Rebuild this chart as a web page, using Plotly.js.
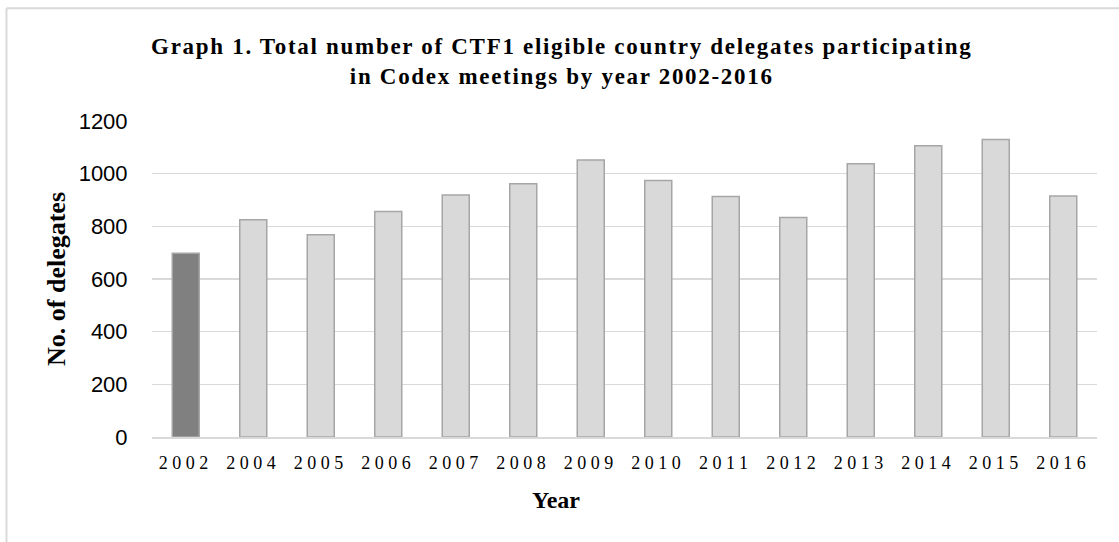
<!DOCTYPE html>
<html>
<head>
<meta charset="utf-8">
<script src="https://cdn.plot.ly/plotly-3.0.1.min.js"></script>
<style>
html,body{margin:0;padding:0;background:#fff;}
#chart{width:1119px;height:542px;}
.xtick text{letter-spacing:4.5px;}
.gtitle{letter-spacing:1.7px;}
</style>
</head>
<body>
<div id="chart"></div>
<script>
const years = ['2002','2004','2005','2006','2007','2008','2009','2010','2011','2012','2013','2014','2015','2016'];
const delegates = [698, 825, 768, 856, 919, 962, 1052, 974, 913, 834, 1038, 1106, 1130, 915];
const barColors = ['#808080','#d9d9d9','#d9d9d9','#d9d9d9','#d9d9d9','#d9d9d9','#d9d9d9','#d9d9d9','#d9d9d9','#d9d9d9','#d9d9d9','#d9d9d9','#d9d9d9','#d9d9d9'];
const yTicks = [0, 200, 400, 600, 800, 1000, 1200];

const serif = '"Liberation Serif", "DejaVu Serif", serif';
const sans = '"Liberation Sans", Arial, sans-serif';

const trace = {
  type: 'bar',
  x: years,
  y: delegates,
  marker: {color: barColors, line: {color: '#a6a6a6', width: 1.5}},
  hoverinfo: 'x+y'
};

const layout = {
  width: 1119,
  height: 542,
  margin: {l: 152, r: 22, t: 121, b: 105},
  paper_bgcolor: '#ffffff',
  plot_bgcolor: '#ffffff',
  bargap: 0.6,
  showlegend: false,
  title: {
    text: '<b>Graph 1. Total number of CTF1 eligible country delegates participating<br>in Codex meetings by year 2002-2016</b>',
    font: {family: serif, size: 23, color: '#000000'},
    x: 0.502, xanchor: 'center',
    y: 0.901, yanchor: 'middle'
  },
  xaxis: {
    type: 'category',
    tickfont: {family: serif, size: 18, color: '#000000'},
    showline: true, linecolor: '#d9d9d9', linewidth: 1.5,
    ticks: 'outside', ticklen: 9, tickcolor: 'rgba(0,0,0,0)',
    showgrid: false, zeroline: false,
    automargin: false
  },
  yaxis: {
    range: [0, 1200],
    tickvals: yTicks,
    ticktext: yTicks.map(String),
    tickfont: {family: sans, size: 22, color: '#000000'},
    ticks: 'outside', ticklen: 19, tickcolor: 'rgba(0,0,0,0)',
    showgrid: true, gridcolor: '#d9d9d9', gridwidth: 1.5,
    zeroline: false, showline: false,
    automargin: false
  },
  annotations: [
    {text: '<b>Year</b>', xref: 'paper', yref: 'paper', x: 0.428, y: -0.2,
     xanchor: 'center', yanchor: 'middle', showarrow: false,
     font: {family: serif, size: 24, color: '#000000'}},
    {text: '<b>No. of delegates</b>', xref: 'paper', yref: 'paper', x: -0.1016, y: 0.5,
     xanchor: 'center', yanchor: 'middle', showarrow: false, textangle: -90,
     font: {family: serif, size: 26, color: '#000000'}}
  ],
  shapes: [
    {type: 'line', xref: 'paper', yref: 'paper', x0: -0.154, x1: 1.03, y0: 1.357, y1: 1.357,
     line: {color: '#d9d9d9', width: 2}},
    {type: 'line', xref: 'paper', yref: 'paper', x0: -0.154, x1: -0.154, y0: 1.357, y1: -0.4,
     line: {color: '#d9d9d9', width: 2}}
  ]
};

Plotly.newPlot('chart', [trace], layout, {displayModeBar: false, staticPlot: true});
</script>
</body>
</html>
